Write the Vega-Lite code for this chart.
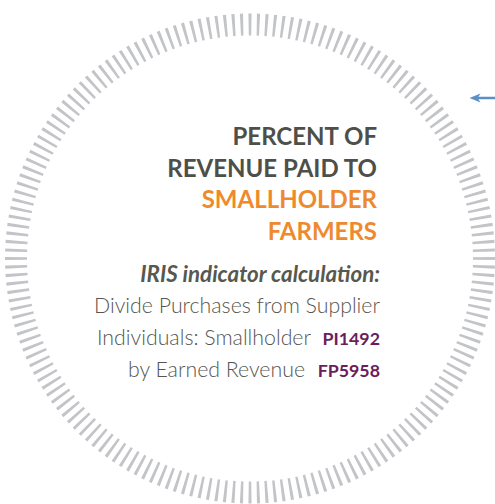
{
  "$schema": "https://vega.github.io/schema/vega-lite/v6.json",
  "width": 495,
  "height": 504,
  "autosize": {"type": "fit", "contains": "padding"},
  "padding": {"left": 5, "top": 13, "right": 0, "bottom": 0},
  "background": "#ffffff",
  "config": {"view": {"stroke": null}},
  "datasets": {
    "dashes": [
      {"i":1,"n":1},{"i":2,"n":1},{"i":3,"n":1},{"i":4,"n":1},{"i":5,"n":1},{"i":6,"n":1},{"i":7,"n":1},{"i":8,"n":1},{"i":9,"n":1},{"i":10,"n":1},
      {"i":11,"n":1},{"i":12,"n":1},{"i":13,"n":1},{"i":14,"n":1},{"i":15,"n":1},{"i":16,"n":1},{"i":17,"n":1},{"i":18,"n":1},{"i":19,"n":1},{"i":20,"n":1},
      {"i":21,"n":1},{"i":22,"n":1},{"i":23,"n":1},{"i":24,"n":1},{"i":25,"n":1},{"i":26,"n":1},{"i":27,"n":1},{"i":28,"n":1},{"i":29,"n":1},{"i":30,"n":1},
      {"i":31,"n":1},{"i":32,"n":1},{"i":33,"n":1},{"i":34,"n":1},{"i":35,"n":1},{"i":36,"n":1},{"i":37,"n":1},{"i":38,"n":1},{"i":39,"n":1},{"i":40,"n":1},
      {"i":41,"n":1},{"i":42,"n":1},{"i":43,"n":1},{"i":44,"n":1},{"i":45,"n":1},{"i":46,"n":1},{"i":47,"n":1},{"i":48,"n":1},{"i":49,"n":1},{"i":50,"n":1},
      {"i":51,"n":1},{"i":52,"n":1},{"i":53,"n":1},{"i":54,"n":1},{"i":55,"n":1},{"i":56,"n":1},{"i":57,"n":1},{"i":58,"n":1},{"i":59,"n":1},{"i":60,"n":1},
      {"i":61,"n":1},{"i":62,"n":1},{"i":63,"n":1},{"i":64,"n":1},{"i":65,"n":1},{"i":66,"n":1},{"i":67,"n":1},{"i":68,"n":1},{"i":69,"n":1},{"i":70,"n":1},
      {"i":71,"n":1},{"i":72,"n":1},{"i":73,"n":1},{"i":74,"n":1},{"i":75,"n":1},{"i":76,"n":1},{"i":77,"n":1},{"i":78,"n":1},{"i":79,"n":1},{"i":80,"n":1},
      {"i":81,"n":1},{"i":82,"n":1},{"i":83,"n":1},{"i":84,"n":1},{"i":85,"n":1},{"i":86,"n":1},{"i":87,"n":1},{"i":88,"n":1},{"i":89,"n":1},{"i":90,"n":1},
      {"i":91,"n":1},{"i":92,"n":1},{"i":93,"n":1},{"i":94,"n":1},{"i":95,"n":1},{"i":96,"n":1},{"i":97,"n":1},{"i":98,"n":1},{"i":99,"n":1},{"i":100,"n":1},
      {"i":101,"n":1},{"i":102,"n":1},{"i":103,"n":1},{"i":104,"n":1},{"i":105,"n":1},{"i":106,"n":1},{"i":107,"n":1},{"i":108,"n":1},{"i":109,"n":1},{"i":110,"n":1},
      {"i":111,"n":1},{"i":112,"n":1},{"i":113,"n":1},{"i":114,"n":1},{"i":115,"n":1},{"i":116,"n":1},{"i":117,"n":1},{"i":118,"n":1},{"i":119,"n":1},{"i":120,"n":1},
      {"i":121,"n":1},{"i":122,"n":1},{"i":123,"n":1},{"i":124,"n":1},{"i":125,"n":1},{"i":126,"n":1},{"i":127,"n":1},{"i":128,"n":1},{"i":129,"n":1},{"i":130,"n":1},
      {"i":131,"n":1},{"i":132,"n":1},{"i":133,"n":1},{"i":134,"n":1},{"i":135,"n":1},{"i":136,"n":1},{"i":137,"n":1},{"i":138,"n":1},{"i":139,"n":1},{"i":140,"n":1},
      {"i":141,"n":1},{"i":142,"n":1},{"i":143,"n":1},{"i":144,"n":1},{"i":145,"n":1},{"i":146,"n":1},{"i":147,"n":1},{"i":148,"n":1},{"i":149,"n":1},{"i":150,"n":1},
      {"i":151,"n":1},{"i":152,"n":1},{"i":153,"n":1},{"i":154,"n":1},{"i":155,"n":1},{"i":156,"n":1},{"i":157,"n":1},{"i":158,"n":1},{"i":159,"n":1},{"i":160,"n":1},
      {"i":161,"n":1},{"i":162,"n":1},{"i":163,"n":1},{"i":164,"n":1},{"i":165,"n":1},{"i":166,"n":1},{"i":167,"n":1},{"i":168,"n":1},{"i":169,"n":1},{"i":170,"n":1},
      {"i":171,"n":1},{"i":172,"n":1},{"i":173,"n":1},{"i":174,"n":1},{"i":175,"n":1},{"i":176,"n":1},{"i":177,"n":1},{"i":178,"n":1},{"i":179,"n":1},{"i":180,"n":1}
    ],
    "lines": [
      {"line": 1, "text": "PERCENT OF", "kind": "title"},
      {"line": 2, "text": "REVENUE PAID TO", "kind": "title"},
      {"line": 3, "text": "SMALLHOLDER", "kind": "accent"},
      {"line": 4, "text": "FARMERS", "kind": "accent"},
      {"line": 5, "text": "IRIS indicator calculation:", "kind": "lead"},
      {"line": 6, "text": "Divide Purchases from Supplier", "kind": "body"},
      {"line": 7, "text": "Individuals: Smallholder", "kind": "body", "code": "PI1492"},
      {"line": 8, "text": "by Earned Revenue", "kind": "body", "code": "FP5958"}
    ],
    "arrow": [{"name": "pointer"}]
  },
  "layer": [
    {
      "data": {"name": "dashes"},
      "mark": {"type": "arc", "innerRadius": 223, "outerRadius": 245, "padAngle": 0.0163, "color": "#c3c4c8"},
      "encoding": {
        "theta": {"field": "n", "type": "quantitative", "stack": true, "scale": {"range": [-0.017453, 6.265732]}},
        "order": {"field": "i", "type": "quantitative"},
        "detail": {"field": "i", "type": "nominal"}
      }
    },
    {
      "data": {"name": "lines"},
      "transform": [{"filter": "datum.kind == 'title'"}],
      "mark": {"type": "text", "align": "right", "baseline": "alphabetic", "font": "Lato", "fontWeight": "bold", "fontSize": 24, "color": "#4e4f48"},
      "encoding": {
        "x": {"value": 372},
        "y": {"field": "line", "type": "quantitative", "scale": {"domain": [-3.164, 12.325], "reverse": true, "nice": false, "zero": false}, "axis": null},
        "text": {"field": "text"}
      }
    },
    {
      "data": {"name": "lines"},
      "transform": [{"filter": "datum.kind == 'accent'"}],
      "mark": {"type": "text", "align": "right", "baseline": "alphabetic", "font": "Lato", "fontWeight": "bold", "fontSize": 24, "color": "#ee8a2d"},
      "encoding": {
        "x": {"value": 372},
        "y": {"field": "line", "type": "quantitative"},
        "text": {"field": "text"}
      }
    },
    {
      "data": {"name": "lines"},
      "transform": [{"filter": "datum.kind == 'lead'"}],
      "mark": {"type": "text", "align": "right", "baseline": "alphabetic", "dy": 10, "font": "Lato", "fontWeight": "bold", "fontStyle": "italic", "fontSize": 22.3, "color": "#57584f"},
      "encoding": {
        "x": {"value": 375},
        "y": {"field": "line", "type": "quantitative"},
        "text": {"field": "text"}
      }
    },
    {
      "data": {"name": "lines"},
      "transform": [{"filter": "datum.line == 6"}],
      "mark": {"type": "text", "align": "right", "baseline": "alphabetic", "dy": 10, "font": "Lato", "fontWeight": 300, "fontSize": 21.3, "color": "#55564f"},
      "encoding": {
        "x": {"value": 375},
        "y": {"field": "line", "type": "quantitative"},
        "text": {"field": "text"}
      }
    },
    {
      "data": {"name": "lines"},
      "transform": [{"filter": "datum.line == 7"}],
      "mark": {"type": "text", "align": "right", "baseline": "alphabetic", "dy": 10, "font": "Lato", "fontWeight": 300, "fontSize": 21.3, "color": "#55564f"},
      "encoding": {
        "x": {"value": 306},
        "y": {"field": "line", "type": "quantitative"},
        "text": {"field": "text"}
      }
    },
    {
      "data": {"name": "lines"},
      "transform": [{"filter": "datum.line == 8"}],
      "mark": {"type": "text", "align": "right", "baseline": "alphabetic", "dy": 10, "font": "Lato", "fontWeight": 300, "fontSize": 21.3, "color": "#55564f"},
      "encoding": {
        "x": {"value": 300},
        "y": {"field": "line", "type": "quantitative"},
        "text": {"field": "text"}
      }
    },
    {
      "data": {"name": "lines"},
      "transform": [{"filter": "datum.code"}],
      "mark": {"type": "text", "align": "right", "baseline": "alphabetic", "dy": 10, "font": "Lato", "fontWeight": "bold", "fontSize": 17.8, "color": "#6b1d5d"},
      "encoding": {
        "x": {"value": 375},
        "y": {"field": "line", "type": "quantitative"},
        "text": {"field": "code"}
      }
    },
    {
      "data": {"name": "arrow"},
      "mark": {"type": "rule", "color": "#5b8fc6", "strokeWidth": 2.5},
      "encoding": {
        "x": {"value": 472},
        "x2": {"value": 491},
        "y": {"value": 85}
      }
    },
    {
      "data": {"name": "arrow"},
      "mark": {"type": "point", "shape": "M-1,0L1,-0.8L0.5,0L1,0.8Z", "filled": true, "size": 120, "opacity": 1, "color": "#5b8fc6"},
      "encoding": {
        "x": {"value": 470},
        "y": {"value": 85}
      }
    }
  ]
}
